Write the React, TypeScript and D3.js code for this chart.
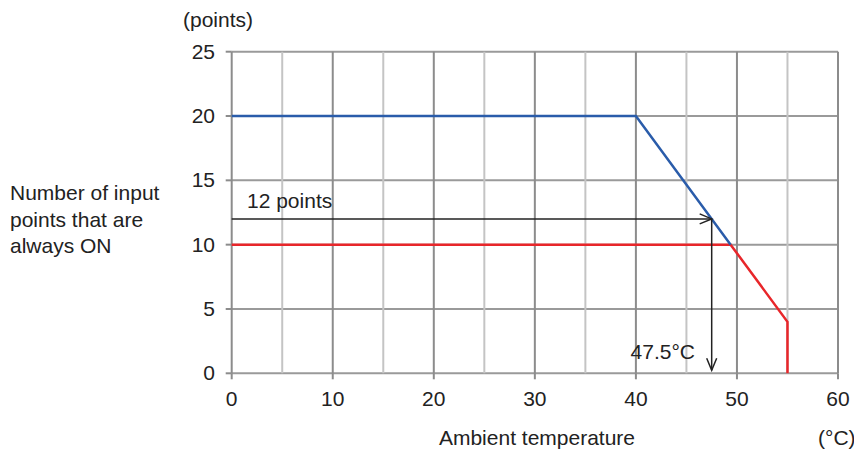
import React from "react";
import * as d3 from "d3";

const xTicks = [0, 10, 20, 30, 40, 50, 60];
const yTicks = [0, 5, 10, 15, 20, 25];
const gridX = [0, 5, 10, 15, 20, 25, 30, 35, 40, 45, 50, 55, 60];
const gridY = [0, 5, 10, 15, 20, 25];

const blueTemp = [0, 40, 49.375];
const bluePoints = [20, 20, 10];
const redTemp = [0, 49.375, 55, 55];
const redPoints = [10, 10, 4, 0];

const markTemp = 47.5;
const markPoints = 12;

const yLabelLines = ["Number of input", "points that are", "always ON"];

export default function App() {
  const W = 854, H = 450;
  const x = d3.scaleLinear().domain([0, 60]).range([231.7, 838]);
  const y = d3.scaleLinear().domain([0, 25]).range([373.3, 51.7]);
  const line = d3.line<[number, number]>().x(d => x(d[0])).y(d => y(d[1]));
  const blue = blueTemp.map((t, i) => [t, bluePoints[i]] as [number, number]);
  const red = redTemp.map((t, i) => [t, redPoints[i]] as [number, number]);
  const font = "'Liberation Sans', Arial, sans-serif";
  const fs = 21;
  const ax = x(markTemp), ay = y(markPoints);
  const ah = 12, aw = 5;
  return (
    <svg width={W} height={H} style={{ position: "absolute", left: 0, top: 0 }} fontFamily={font}>
      <rect width={W} height={H} fill="#fff" />
      {gridY.map(v => (
        <line key={"gy" + v} x1={x(0)} x2={x(60)} y1={y(v)} y2={y(v)} stroke="#9a9a9a" strokeWidth={2} />
      ))}
      {gridX.map(v => (
        <line key={"gx" + v} x1={x(v)} x2={x(v)} y1={y(0)} y2={y(25)}
          stroke={v % 10 === 0 ? "#8c8c8c" : "#c4c4c4"} strokeWidth={2} />
      ))}
      {yTicks.map(v => (
        <g key={"yt" + v}>
          <line x1={x(0) - 6} x2={x(0)} y1={y(v)} y2={y(v)} stroke="#8c8c8c" strokeWidth={2} />
          <text x={215} y={y(v) + 7} textAnchor="end" fontSize={fs} fill="#222">{v}</text>
        </g>
      ))}
      {xTicks.map(v => (
        <g key={"xt" + v}>
          <line x1={x(v)} x2={x(v)} y1={y(0)} y2={y(0) + 6} stroke="#8c8c8c" strokeWidth={2} />
          <text x={x(v)} y={406} textAnchor="middle" fontSize={fs} fill="#222">{v}</text>
        </g>
      ))}
      <path d={line(red) || ""} fill="none" stroke="#e8262a" strokeWidth={2.5} />
      <path d={line(blue) || ""} fill="none" stroke="#2a5caa" strokeWidth={2.5} />
      <line x1={x(0)} x2={ax} y1={ay} y2={ay} stroke="#222" strokeWidth={1.5} />
      <polyline points={`${ax - ah},${ay - aw} ${ax},${ay} ${ax - ah},${ay + aw}`} fill="none" stroke="#222" strokeWidth={1.5} />
      <line x1={ax} x2={ax} y1={ay} y2={y(0) - 3} stroke="#222" strokeWidth={1.5} />
      <polyline points={`${ax - aw},${y(0) - 3 - ah} ${ax},${y(0) - 3} ${ax + aw},${y(0) - 3 - ah}`} fill="none" stroke="#222" strokeWidth={1.5} />
      <text x={247} y={208} fontSize={fs} fill="#222">{markPoints} points</text>
      <text x={695} y={359} textAnchor="end" fontSize={fs} fill="#222">{markTemp}°C</text>
      <text x={183} y={27} fontSize={fs} fill="#222">(points)</text>
      <text x={537} y={445} textAnchor="middle" fontSize={fs} fill="#222">Ambient temperature</text>
      <text x={818} y={445} fontSize={fs} fill="#222">(°C)</text>
      {yLabelLines.map((s, i) => (
        <text key={s} x={10} y={200 + i * 26.5} fontSize={fs} fill="#222">{s}</text>
      ))}
    </svg>
  );
}
